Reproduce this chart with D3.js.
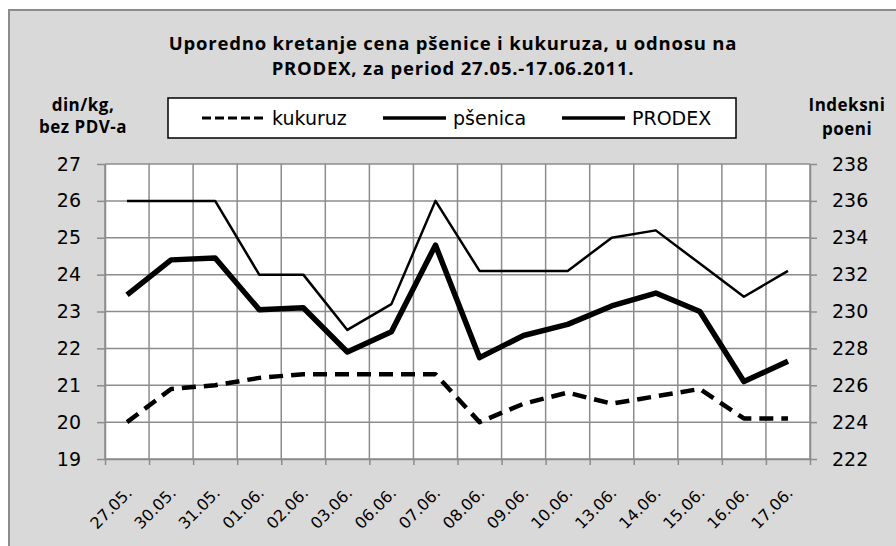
<!DOCTYPE html>
<meta charset="utf-8">
<style>
    body { margin: 0; background: #fff; }
    .title { font-family: 'Open Sans', sans-serif; font-weight: bold; font-size: 18.5px; letter-spacing: 0.8px; fill: #000; }
    .axis-title { font-family: 'Open Sans', sans-serif; font-weight: bold; font-size: 17px; letter-spacing: 0.5px; fill: #000; }
    .axis text { font-family: 'DejaVu Sans', sans-serif; font-size: 19px; fill: #000; }
    .axis.x-labels text { font-size: 16px; }
    .axis path, .axis line { stroke: #8c8c8c; stroke-width: 1.5px; }
    .grid line { stroke: #8c8c8c; stroke-width: 1.5px; }
    .legend text { font-family: 'DejaVu Sans', sans-serif; font-size: 19px; fill: #000; }
    .series { fill: none; stroke: #000; stroke-linejoin: round; }
</style>
<body>
<div id="chart"></div>
<script src="https://cdnjs.cloudflare.com/ajax/libs/d3/7.8.5/d3.min.js"></script>
<script>
    // data
    var dates = ["27.05.", "30.05.", "31.05.", "01.06.", "02.06.", "03.06.", "06.06.", "07.06.",
                 "08.06.", "09.06.", "10.06.", "13.06.", "14.06.", "15.06.", "16.06.", "17.06."];
    var kukuruz = [20.0, 20.9, 21.0, 21.2, 21.3, 21.3, 21.3, 21.3, 20.0, 20.5, 20.8, 20.5, 20.7, 20.9, 20.1, 20.1];
    var psenica = [26.0, 26.0, 26.0, 24.0, 24.0, 22.5, 23.2, 26.0, 24.1, 24.1, 24.1, 25.0, 25.2, 24.3, 23.4, 24.1];
    var prodex = [230.9, 232.8, 232.9, 230.1, 230.2, 227.8, 228.9, 233.6, 227.5, 228.7, 229.3, 230.3, 231.0, 230.0, 226.2, 227.3];

    var leftTicks = [19, 20, 21, 22, 23, 24, 25, 26, 27];
    var rightTicks = [222, 224, 226, 228, 230, 232, 234, 236, 238];
    var titleLines = ["Uporedno kretanje cena pšenice i kukuruza, u odnosu na",
                      "PRODEX, za period 27.05.-17.06.2011."];
    var legendItems = [
        {name: "kukuruz", dash: "9,4", width: 3},
        {name: "pšenica", dash: null, width: 3.5},
        {name: "PRODEX", dash: null, width: 3.5}
    ];

    var width = 896,
        height = 546;

    var plot_left = 105,
        plot_right = 810,
        plot_top = 164,
        plot_bottom = 459;

    var svg = d3.select("#chart").append("svg")
        .attr("width", width)
        .attr("height", height);

    // chart area
    svg.append("rect")
        .attr("x", 9)
        .attr("y", 10)
        .attr("width", 900)
        .attr("height", 550)
        .attr("fill", "#d9d9d9")
        .attr("stroke", "#8c8c8c")
        .attr("stroke-width", 2);

    svg.append("rect")
        .attr("x", plot_left)
        .attr("y", plot_top)
        .attr("width", plot_right - plot_left)
        .attr("height", plot_bottom - plot_top)
        .attr("fill", "#fff");

    var x = d3.scaleBand()
        .domain(dates)
        .range([plot_left, plot_right])
        .padding(0);

    var edge = d3.scaleLinear()
        .domain([0, dates.length])
        .range([plot_left, plot_right]);

    var yLeft = d3.scaleLinear()
        .domain([19, 27])
        .range([plot_bottom, plot_top]);

    var yRight = d3.scaleLinear()
        .domain([222, 238])
        .range([plot_bottom, plot_top]);

    // grid
    var grid = svg.append("g").attr("class", "grid");
    grid.selectAll(".h")
        .data(leftTicks)
        .enter().append("line")
        .attr("x1", plot_left).attr("x2", plot_right)
        .attr("y1", d => yLeft(d)).attr("y2", d => yLeft(d));
    grid.selectAll(".v")
        .data(d3.range(dates.length + 1))
        .enter().append("line")
        .attr("x1", d => edge(d)).attr("x2", d => edge(d))
        .attr("y1", plot_top).attr("y2", plot_bottom);

    // axes
    svg.append("g")
        .attr("class", "axis")
        .attr("transform", "translate(" + plot_left + ",0)")
        .call(d3.axisLeft(yLeft).tickValues(leftTicks).tickSize(8).tickPadding(16).tickSizeOuter(0));

    svg.append("g")
        .attr("class", "axis")
        .attr("transform", "translate(" + plot_right + ",0)")
        .call(d3.axisRight(yRight).tickValues(rightTicks).tickSize(7).tickPadding(15).tickSizeOuter(0));

    svg.append("g")
        .attr("class", "axis")
        .attr("transform", "translate(0," + plot_bottom + ")")
        .call(d3.axisBottom(edge).tickValues(d3.range(dates.length + 1)).tickSize(6).tickFormat("").tickSizeOuter(0));

    var xLabels = svg.append("g")
        .attr("class", "axis x-labels")
        .attr("transform", "translate(0," + plot_bottom + ")")
        .call(d3.axisBottom(x).tickSize(0));
    xLabels.select(".domain").remove();
    xLabels.selectAll("text")
        .attr("y", 0)
        .attr("dy", 0)
        .attr("text-anchor", "end")
        .attr("transform", "translate(6,35) rotate(-45)");

    svg.selectAll(".axis text").attr("fill", "#000");

    // series
    var lineLeft = d3.line()
        .x((d, i) => x(dates[i]) + x.bandwidth() / 2)
        .y(d => yLeft(d));

    var lineRight = d3.line()
        .x((d, i) => x(dates[i]) + x.bandwidth() / 2)
        .y(d => yRight(d));

    svg.append("path")
        .datum(kukuruz)
        .attr("class", "series")
        .attr("stroke-width", 4.5)
        .attr("stroke-dasharray", "14,8")
        .attr("d", lineLeft);

    svg.append("path")
        .datum(psenica)
        .attr("class", "series")
        .attr("stroke-width", 2.5)
        .attr("d", lineLeft);

    svg.append("path")
        .datum(prodex)
        .attr("class", "series")
        .attr("stroke-width", 5.5)
        .attr("d", lineRight);

    // title
    svg.selectAll(".title")
        .data(titleLines)
        .enter().append("text")
        .attr("class", "title")
        .attr("x", 453)
        .attr("y", (d, i) => 50 + i * 25)
        .attr("text-anchor", "middle")
        .text(d => d);

    // axis titles
    svg.selectAll(".axis-title.left")
        .data(["din/kg,", "bez PDV-a"])
        .enter().append("text")
        .attr("class", "axis-title left")
        .attr("x", 83)
        .attr("y", (d, i) => 111 + i * 22)
        .attr("text-anchor", "middle")
        .text(d => d);

    svg.selectAll(".axis-title.right")
        .data(["Indeksni", "poeni"])
        .enter().append("text")
        .attr("class", "axis-title right")
        .attr("x", 847)
        .attr("y", (d, i) => 111 + i * 24)
        .attr("text-anchor", "middle")
        .text(d => d);

    // legend
    var legend = svg.append("g").attr("class", "legend");
    legend.append("rect")
        .attr("x", 168)
        .attr("y", 98)
        .attr("width", 568)
        .attr("height", 40)
        .attr("fill", "#fff")
        .attr("stroke", "#000")
        .attr("stroke-width", 1.5);

    var legendX = [202, 383, 562];
    var item = legend.selectAll(".item")
        .data(legendItems)
        .enter().append("g")
        .attr("class", "item")
        .attr("transform", (d, i) => "translate(" + legendX[i] + ",118)");
    item.append("line")
        .attr("x1", 0).attr("x2", 63)
        .attr("stroke", "#000")
        .attr("stroke-width", d => d.width)
        .attr("stroke-dasharray", d => d.dash);
    item.append("text")
        .attr("x", 70)
        .attr("dy", "0.36em")
        .text(d => d.name);
</script>
</body>
